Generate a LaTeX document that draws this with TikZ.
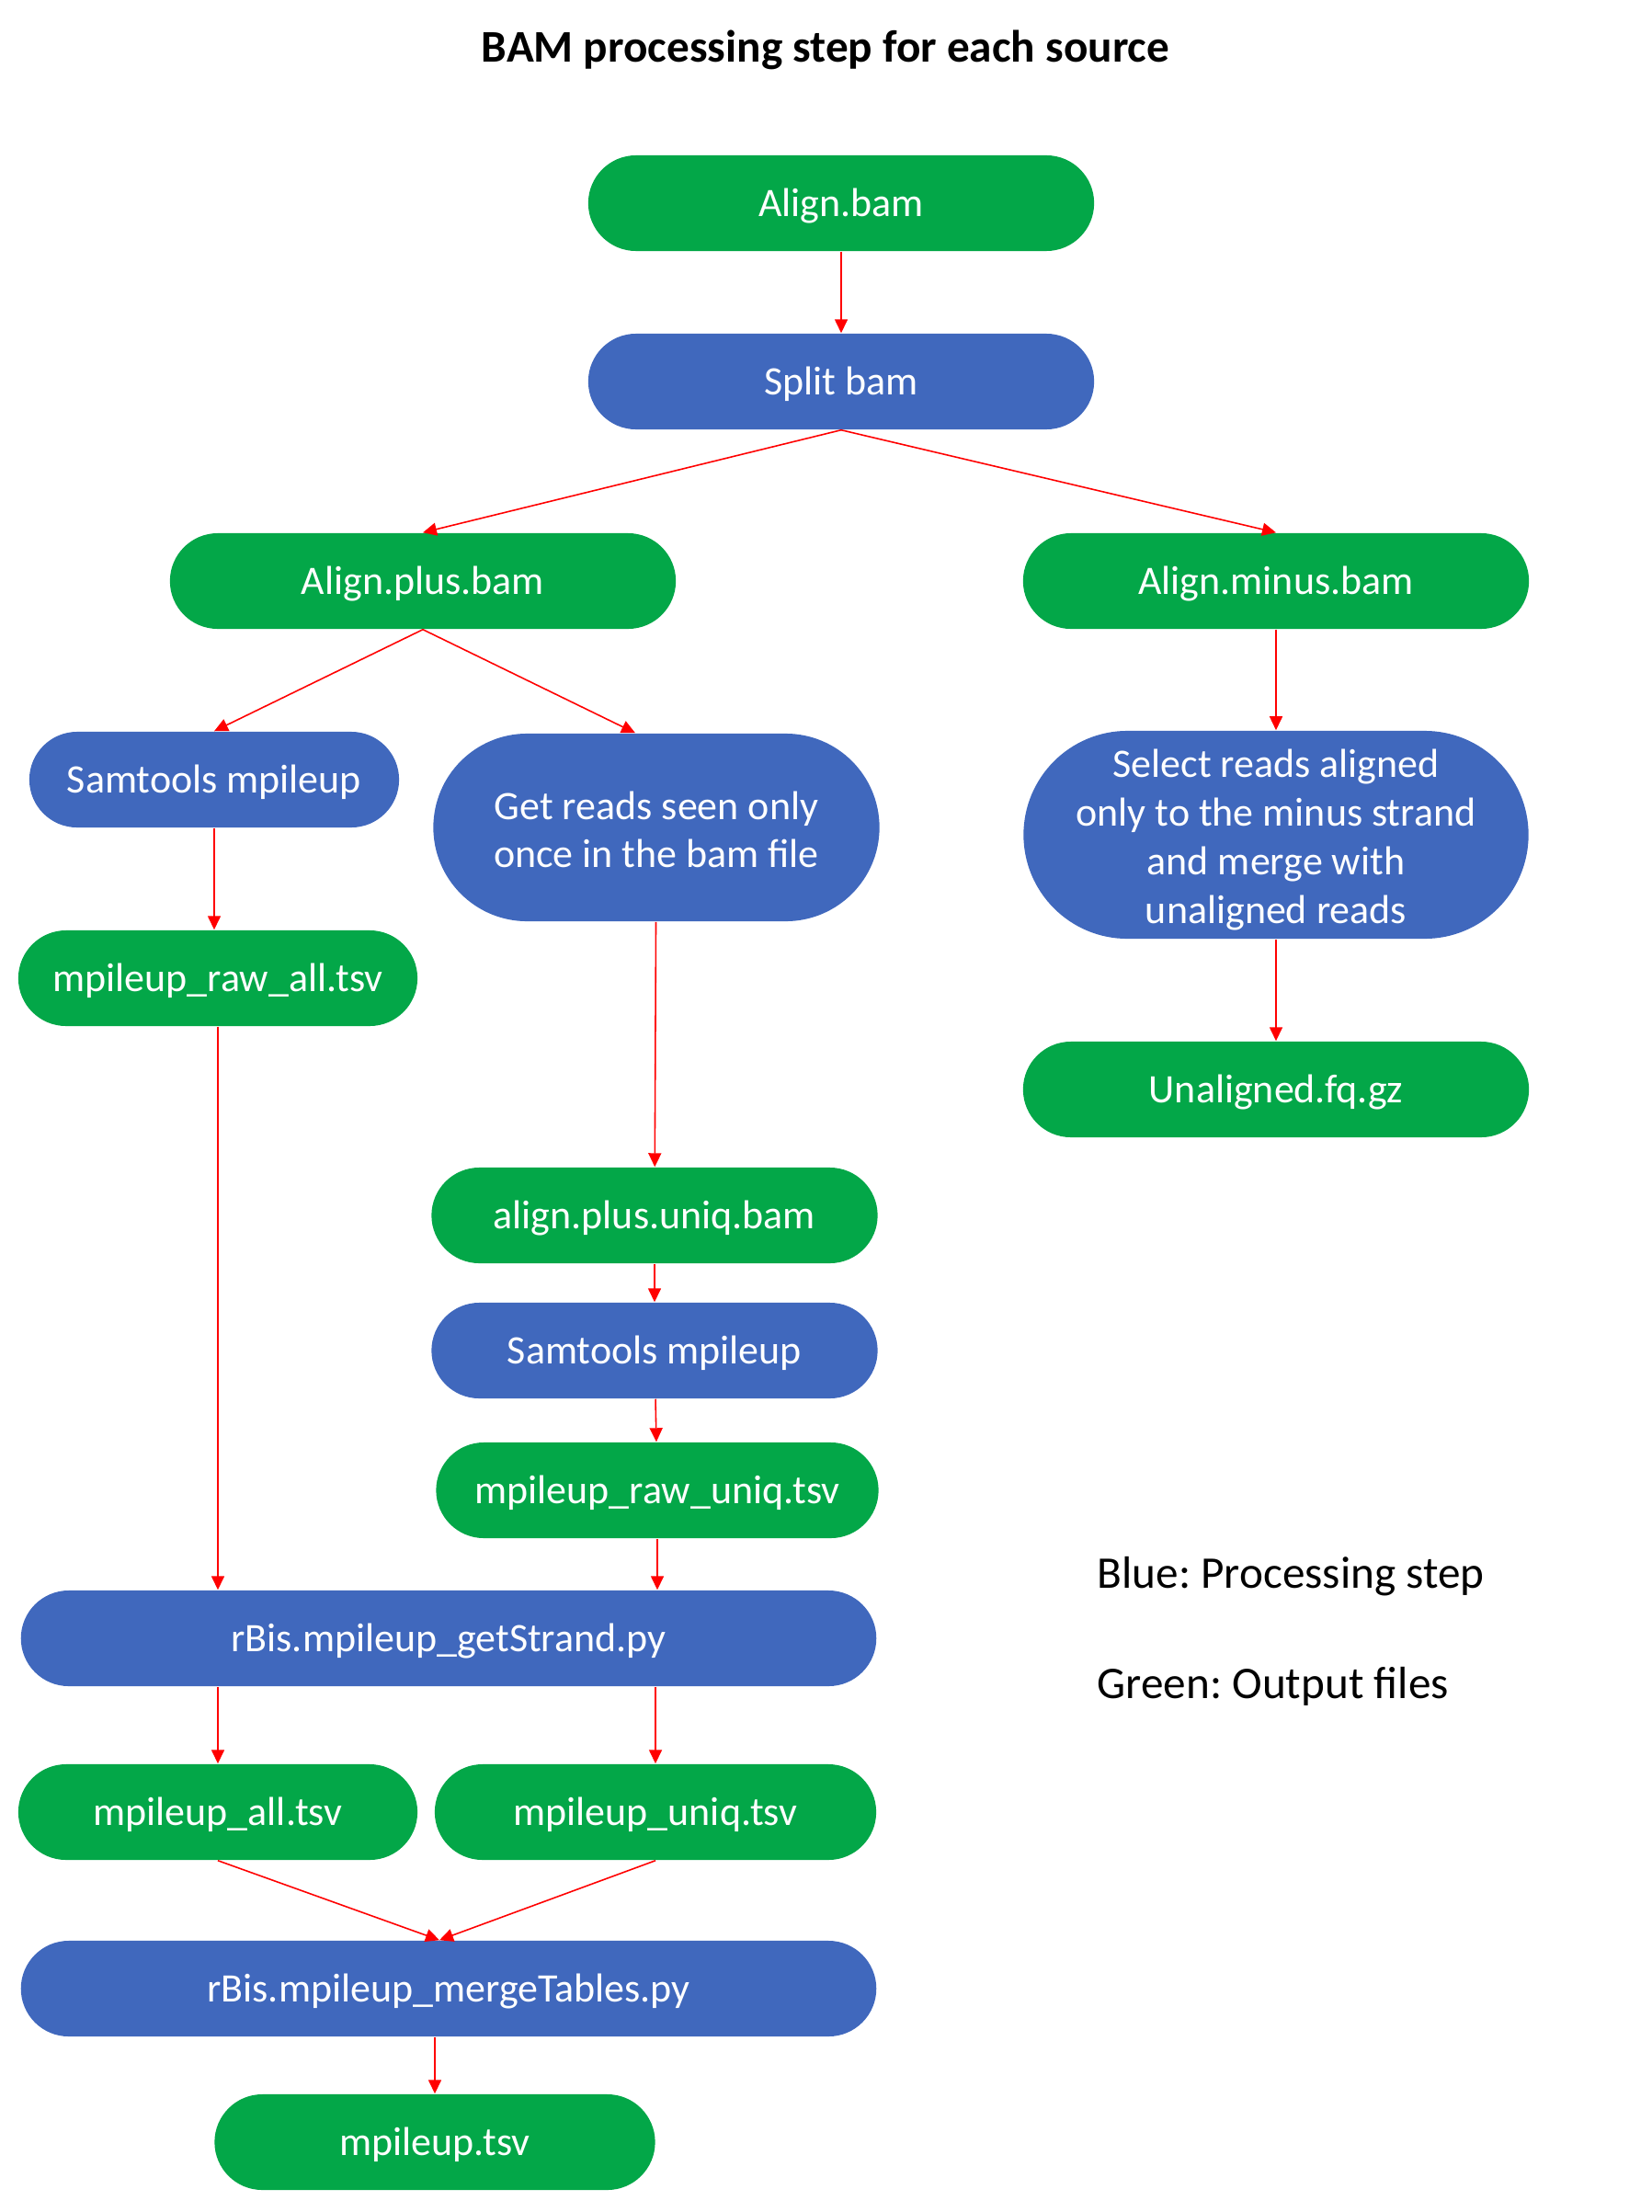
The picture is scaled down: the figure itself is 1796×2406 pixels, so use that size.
\documentclass[tikz,border=0pt]{standalone}
\usepackage{fontspec}
\setmainfont{Carlito}
\usepackage{xcolor}
\usetikzlibrary{arrows.meta}
\usetikzlibrary{calc}
\definecolor{procblue}{RGB}{64,104,189}
\definecolor{filegreen}{RGB}{3,167,72}
\frenchspacing
\tikzset{
  box/.style={rectangle, rounded corners=0.52cm, minimum height=1.04cm,
    inner sep=0pt, text=white, align=center,
    font=\fontsize{12.5}{15}\selectfont},
  oneline/.style={text height=1.0em, text depth=0.2em},
  proc/.style={box, oneline, fill=procblue},
  outfile/.style={box, oneline, fill=filegreen},
  tallproc/.style={box, fill=procblue},
  flow/.style={->, red, line width=0.45pt},
  legend/.style={anchor=west, inner sep=0pt, font=\fontsize{14}{17}\selectfont}
}

\begin{document}
\begin{tikzpicture}[x=0.01cm, y=-0.01cm, >={Triangle[length=0.15cm,width=0.14cm]}]
  \useasboundingbox (0,0) rectangle (1796,2406);

  \node[font=\fontsize{14}{17}\selectfont\bfseries] (title) at (898,54)
    {BAM processing step for each source};

  \node[outfile, minimum width=5.5cm] (alignbam) at (915,221) {Align.bam};
  \node[proc, minimum width=5.5cm] (split) at (915,415) {Split bam};
  \node[outfile, minimum width=5.5cm] (plus) at (460,632) {Align.plus.bam};
  \node[outfile, minimum width=5.5cm] (minus) at (1388,632) {Align.minus.bam};
  \node[proc, minimum width=4.02cm] (samall) at (233,848) {Samtools mpileup};
  \node[tallproc, minimum width=4.85cm, minimum height=2.04cm, rounded corners=1.02cm]
    (uniqreads) at (714,900) {\rule{0pt}{0.8em}Get reads seen only\\once in the bam file};
  \node[tallproc, minimum width=5.49cm, minimum height=2.26cm, rounded corners=1.13cm]
    (select) at (1388,908)
    {\rule{0pt}{0.95em}Select reads aligned\\only to the minus strand\\and merge with\\unaligned reads};
  \node[outfile, minimum width=4.34cm] (rawall) at (237,1064) {mpileup\_raw\_all.tsv};
  \node[outfile, minimum width=5.5cm] (unaligned) at (1388,1185) {Unaligned.fq.gz};
  \node[outfile, minimum width=4.85cm] (uniqbam) at (712,1322) {align.plus.uniq.bam};
  \node[proc, minimum width=4.85cm] (samuniq) at (712,1469) {Samtools mpileup};
  \node[outfile, minimum width=4.81cm] (rawuniq) at (715,1621) {mpileup\_raw\_uniq.tsv};
  \node[proc, minimum width=9.3cm] (getstrand) at (488,1782) {rBis.mpileup\_getStrand.py};
  \node[outfile, minimum width=4.34cm] (mpall) at (237,1971) {mpileup\_all.tsv};
  \node[outfile, minimum width=4.8cm] (mpuniq) at (713,1971) {mpileup\_uniq.tsv};
  \node[proc, minimum width=9.3cm] (merge) at (488,2163) {rBis.mpileup\_mergeTables.py};
  \node[outfile, minimum width=4.79cm] (mpileup) at (473,2330) {mpileup.tsv};

  \node[legend] (legblue) at (1193,1715) {Blue: Processing step};
  \node[legend] (leggreen) at (1193,1834) {Green: Output files};

  % split into strands
  \path[flow] (alignbam) edge (split);
  \path[flow] (split.south) edge (plus.north);
  \path[flow] (split.south) edge (minus.north);
  \path[flow] (plus.south) edge (samall.north);
  \path[flow] (plus.south) edge ([xshift=-0.23cm]uniqreads.north);
  \path[flow] (minus) edge (select);
  \path[flow] (select) edge (unaligned);

  % pileups
  \path[flow] (samall.south) edge (samall.south |- rawall.north);
  \path[flow] (uniqreads) edge (uniqbam);
  \path[flow] (uniqbam) edge (samuniq);
  \path[flow] (samuniq) edge (rawuniq);
  \path[flow] (rawall.south) edge (rawall.south |- getstrand.north);
  \path[flow] (rawuniq.south) edge (rawuniq.south |- getstrand.north);

  % strand tables and merge
  \path[flow] (mpall.north |- getstrand.south) edge (mpall.north);
  \path[flow] (mpuniq.north |- getstrand.south) edge (mpuniq.north);
  \path[flow] (mpall.south) edge ([xshift=-0.1cm]merge.north);
  \path[flow] (mpuniq.south) edge ([xshift=-0.1cm]merge.north);
  \path[flow] (mpileup.north |- merge.south) edge (mpileup.north);
\end{tikzpicture}
\end{document}
